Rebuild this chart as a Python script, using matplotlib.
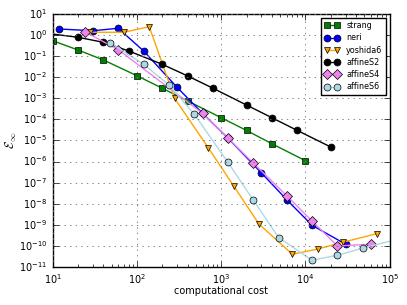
#! /usr/bin/python3

import numpy as np
import matplotlib
matplotlib.use('Agg')
import matplotlib.pyplot as plt
from matplotlib.ticker import LogLocator, NullLocator

plt.style.use('classic')
plt.rcParams['font.size'] = 7
plt.rcParams['legend.fontsize'] = 5.8
plt.rcParams['mathtext.fontset'] = 'cm'

# cost / error for each method
strang_cost = [10, 20, 40, 100, 200, 400, 1000, 2000, 4000, 10000]
strang_err  = [0.54, 0.196, 0.066, 0.0118, 3.0e-3, 7.5e-4, 1.2e-4, 3.0e-5, 7.0e-6, 1.1e-6]

neri_cost = [12, 30, 60, 120, 300, 600, 1200, 3000, 6000, 12000, 30000]
neri_err  = [1.94, 1.61, 2.1, 0.176, 3.3e-3, 1.95e-4, 1.3e-5, 2.9e-7, 1.55e-8, 9.5e-10, 1.2e-10]

yoshida6_cost = [28, 70, 140, 280, 700, 1400, 2800, 7000, 14000, 28000, 70000]
yoshida6_err  = [1.36, 1.36, 2.5, 1.0e-3, 4.6e-6, 7.2e-8, 1.1e-9, 4.0e-11, 7.1e-11, 1.5e-10, 3.8e-10]

affineS2_cost = [8, 20, 40, 80, 200, 400, 800, 2000, 4000, 8000, 20000]
affineS2_err  = [1.25, 0.785, 0.454, 0.176, 0.041, 0.0115, 3.0e-3, 4.8e-4, 1.2e-4, 3.0e-5, 4.9e-6]

affineS4_cost = [24, 60, 600, 1200, 2400, 6000, 12000, 24000, 60000]
affineS4_err  = [1.45, 0.202, 1.95e-4, 1.3e-5, 8.5e-7, 2.4e-8, 1.5e-9, 1.0e-10, 1.2e-10]

affineS6_cost = [48, 120, 240, 480, 1200, 2400, 4800, 12000, 24000, 48000, 120000]
affineS6_err  = [0.435, 0.041, 4.3e-3, 1.75e-4, 9.2e-7, 1.5e-8, 2.5e-10, 2.1e-11, 3.6e-11, 7.9e-11, 2.0e-10]

fig = plt.figure(figsize=(4.07, 3.05), dpi=100, facecolor='white')
ax = fig.add_axes([0.1295, 0.1246, 0.828, 0.8295])

ms = 5
ax.loglog(strang_cost, strang_err, 's-', color='g', ms=ms, label='strang')
ax.loglog(neri_cost, neri_err, 'o-', color='b', ms=ms, label='neri')
ax.loglog(yoshida6_cost, yoshida6_err, 'v-', color='orange', ms=ms, label='yoshida6')
ax.loglog(affineS2_cost, affineS2_err, 'o-', color='k', ms=ms, label='affineS2')
ax.loglog(affineS4_cost, affineS4_err, 'D-', color='violet', ms=ms, label='affineS4')
ax.loglog(affineS6_cost, affineS6_err, 'o-', color='lightblue', ms=ms, label='affineS6')

ax.set_xlim(10, 1e5)
ax.set_ylim(1e-11, 1e1)
ax.yaxis.set_major_locator(LogLocator(base=10, numticks=30))
ax.yaxis.set_minor_locator(NullLocator())
ax.tick_params(axis='x', which='major', pad=4)
ax.grid(True, which='major', color='0.45', linestyle=':', linewidth=0.6)
ax.set_xlabel('computational cost', labelpad=0)
ax.set_ylabel(r'$\mathcal{E}_\infty$', fontsize=9)
ax.yaxis.set_label_coords(-0.1, 0.5)

ax.legend(loc='upper right', numpoints=2, handlelength=1.9, borderpad=0.45,
          labelspacing=0.4, handletextpad=0.8, borderaxespad=0.45)

plt.savefig('out.png', dpi=100)
